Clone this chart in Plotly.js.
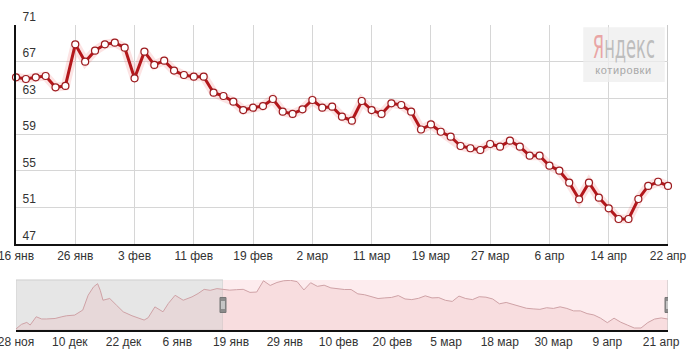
<!DOCTYPE html>
<html><head><meta charset="utf-8">
<script src="https://cdn.plot.ly/plotly-3.0.1.min.js"></script>
<style>html,body{margin:0;padding:0;background:#fff}#c{width:687px;height:356px}</style>
</head><body><div id="c"></div>
<script>
// Main chart tick labels (every 6th trading day)
const mainTickLabels = ['16 янв','26 янв','3 фев','11 фев','19 фев','2 мар','11 мар','19 мар','27 мар','6 апр','14 апр','22 апр'];
// Daily quotes shown in main view (16 янв .. 22 апр)
const quotes = [65.27,65.08,65.27,65.41,64.17,64.32,68.88,66.98,68.19,68.88,
  69.06,68.52,65.16,68.08,66.62,67.09,66.00,65.52,65.34,65.34,
  63.58,63.22,62.60,61.68,61.94,62.12,62.89,61.50,61.25,61.76,
  62.78,61.94,62.05,60.95,60.51,62.67,61.68,61.25,62.42,62.23,
  61.50,59.55,60.10,59.30,58.76,57.74,57.49,57.30,57.96,57.67,
  58.32,57.67,56.68,56.68,55.58,55.03,53.72,51.90,53.72,52.08,
  50.91,49.74,49.74,51.93,53.36,53.82,53.36];
const yTicks = [47,51,55,59,63,67,71];
// Navigator: history before the selected window (position in trading days relative to 16 янв)
const navPreX = [-30.7,-29.9,-29.1,-28.6,-27.7,-26.9,-26.2,-24.9,-23.9,-23.2,-22.0,-20.8,-20.0,-19.2,-18.6,-18.2,-17.8,-16.8,-15.8,-14.8,-13.5,-12.3,-11.7,-11.1,-10.1,-8.9,-8.1,-7.1,-5.9,-4.6,-3.7,-2.8,-1.9,-0.9];
const navPreY = [49.34,51.2,52.0,50.95,54.3,53.4,53.4,53.6,54.3,54.7,54.97,57.0,63.0,66.4,67.7,65.0,61.0,61.7,59.0,56.3,54.7,53.4,52.96,53.9,58.3,56.3,59.7,63.0,61.0,62.35,63.7,65.4,65.0,65.7];
const navTickLabels = ['28 ноя','10 дек','22 дек','6 янв','19 янв','29 янв','10 фев','20 фев','5 мар','18 мар','30 мар','9 апр','21 апр'];

const idx = quotes.map((_, i) => i);
const mainTickVals = mainTickLabels.map((_, i) => i * 6);
const navRange = [-30.7, 66];
const navStep = 7.973;
const navTickVals = navTickLabels.map((_, i) => navRange[0] + i * navStep);
const navX = navPreX.concat(idx);
const navY = navPreY.concat(quotes);

const FONT = 'Liberation Sans, Arial, sans-serif';

const traces = [
  {x: idx, y: quotes, type: 'scatter', mode: 'lines', xaxis: 'x', yaxis: 'y',
   line: {color: 'rgba(235,70,70,0.15)', width: 9}, hoverinfo: 'skip', cliponaxis: false},
  {x: idx, y: quotes, type: 'scatter', mode: 'lines+markers', xaxis: 'x', yaxis: 'y',
   line: {color: '#b3171b', width: 3},
   marker: {size: 7, color: '#ffffff', line: {color: '#9c1a1e', width: 1.2}},
   cliponaxis: false},
  {x: navX, y: navY, type: 'scatter', mode: 'lines', xaxis: 'x2', yaxis: 'y2',
   line: {color: '#cfa2a6', width: 1}, fill: 'tozeroy', fillcolor: 'rgba(236,175,180,0.25)',
   hoverinfo: 'skip'}
];

const shapes = [
  {type: 'rect', xref: 'x2', yref: 'y2 domain', x0: navRange[0], x1: 0, y0: 0, y1: 1,
   fillcolor: '#e6e6e6', line: {color: '#cfcfcf', width: 1}, layer: 'below'},
  {type: 'rect', xref: 'x2', yref: 'y2 domain', x0: 0, x1: navRange[1], y0: 0, y1: 1,
   fillcolor: '#fdecee', line: {width: 0}, layer: 'below'},
  {type: 'line', xref: 'x2', yref: 'y2 domain', x0: navRange[1], x1: navRange[1], y0: 0, y1: 1,
   line: {color: '#bdbdbd', width: 1}},
  {type: 'line', xref: 'x', yref: 'y', x0: 66, x1: 66, y0: 47, y1: 71,
   line: {color: '#b8b8b8', width: 1.5}, layer: 'below'},
  {type: 'rect', xref: 'paper', yref: 'paper', x0: 0.87, x1: 0.995, y0: 0.813, y1: 0.993,
   fillcolor: 'rgba(238,238,238,0.75)', line: {width: 0}}
];
[0, navRange[1]].forEach(xv => {
  shapes.push({type: 'rect', xref: 'x2', yref: 'y2 domain', xsizemode: 'pixel', xanchor: xv,
    x0: -3, x1: 3, ysizemode: 'pixel', yanchor: 0.5, y0: -7.5, y1: 7.5,
    fillcolor: '#8c8c8c', line: {color: '#777', width: 1}});
  [-1, 1].forEach(d => shapes.push({type: 'line', xref: 'x2', yref: 'y2 domain', xsizemode: 'pixel', xanchor: xv,
    x0: d, x1: d, ysizemode: 'pixel', yanchor: 0.5, y0: -4, y1: 4,
    line: {color: '#ffffff', width: 1}}));
});

const layout = {
  width: 687, height: 356,
  margin: {l: 16, r: 19, t: 25, b: 26},
  paper_bgcolor: '#ffffff', plot_bgcolor: 'rgba(0,0,0,0)',
  showlegend: false,
  font: {family: FONT, size: 12, color: '#333'},
  xaxis: {domain: [0, 1], range: [0, 66], tickvals: mainTickVals, ticktext: mainTickLabels,
    showgrid: true, gridcolor: '#d6d6d6', gridwidth: 1, zeroline: false,
    showline: true, linecolor: '#111', linewidth: 2, ticks: '', ticklabeloverflow: 'allow',
    tickfont: {size: 12, color: '#333'}, anchor: 'y'},
  yaxis: {domain: [0.282, 1], range: [47, 71], tickvals: yTicks,
    showgrid: true, gridcolor: '#d6d6d6', gridwidth: 1, zeroline: false,
    showline: true, linecolor: '#111', linewidth: 2, ticks: '',
    ticklabelposition: 'inside top', ticklabeloverflow: 'allow', ticklabelstandoff: 5,
    tickfont: {size: 12, color: '#333'}, anchor: 'x'},
  xaxis2: {domain: [0, 1], range: navRange, tickvals: navTickVals, ticktext: navTickLabels,
    showgrid: false, zeroline: false, showline: true, linecolor: '#111', linewidth: 1.5,
    ticks: '', ticklabeloverflow: 'allow', tickfont: {size: 12, color: '#333'}, anchor: 'y2'},
  yaxis2: {domain: [0, 0.164], range: [48.93, 69.2], showgrid: false, zeroline: false,
    showticklabels: false, showline: false, anchor: 'x2'},
  shapes: shapes,
  annotations: [
    {xref: 'paper', yref: 'paper', x: 0.932, y: 0.927, xanchor: 'center', yanchor: 'middle',
     text: '<span style="color:#e9a5a5">Я</span>ндекс', showarrow: false,
     font: {family: 'Liberation Sans Narrow, DejaVu Sans Condensed, Liberation Sans, sans-serif', size: 32, color: '#bdbdbd'}},
    {xref: 'paper', yref: 'paper', x: 0.932, y: 0.852, xanchor: 'center', yanchor: 'middle',
     text: 'котировки', showarrow: false,
     font: {family: FONT, size: 11, color: '#a8a8a8'}}
  ]
};

Plotly.newPlot('c', traces, layout, {displayModeBar: false, staticPlot: true}).then(() => {
  const anns = document.querySelectorAll('#c .annotation text');
  if (anns[0]) {
    const t = anns[0];
    const bb = t.getBBox();
    const target = 62;
    if (bb.width > target) {
      const s = target / bb.width;
      const cx = bb.x + bb.width / 2;
      const prev = t.getAttribute('transform') || '';
      t.setAttribute('transform', prev + ` translate(${cx},0) scale(${s},1) translate(${-cx},0)`);
    }
  }
  if (anns[1]) anns[1].setAttribute('letter-spacing', '0.6');
});
</script></body></html>
